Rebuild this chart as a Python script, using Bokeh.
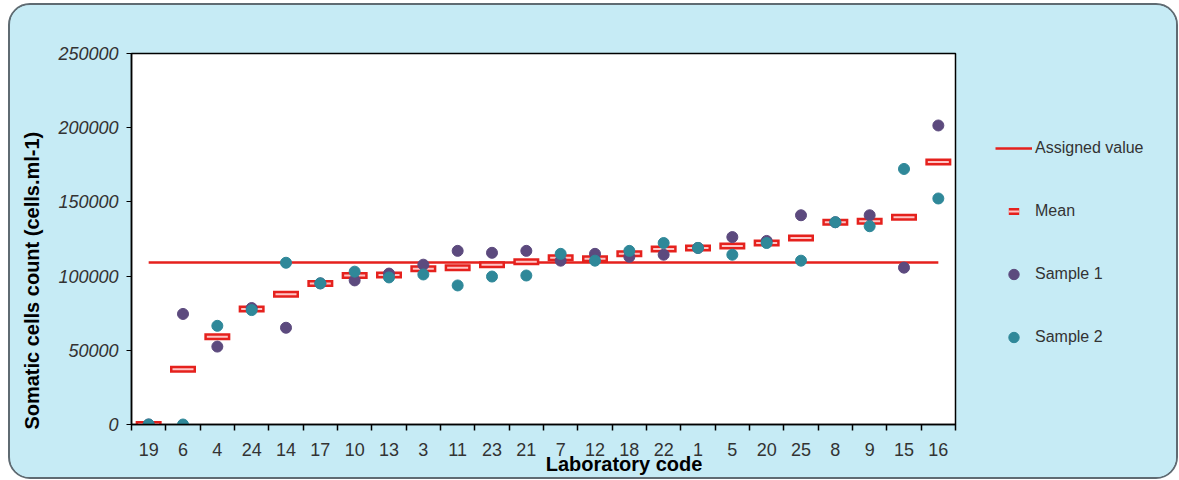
from bokeh.plotting import figure
from bokeh.layouts import row
from bokeh.models import (ColumnDataSource, FixedTicker, Legend, LegendItem,
                          BasicTickFormatter, Range1d)
from bokeh.embed import file_html
from bokeh.resources import INLINE

# ---- data ----
lab_codes = ["19", "6", "4", "24", "14", "17", "10", "13", "3", "11", "23", "21",
             "7", "12", "18", "22", "1", "5", "20", "25", "8", "9", "15", "16"]
sample1 = [0, 74500, 52500, 78500, 65200, 95100, 97100, 101700, 107700, 117000, 115700, 117000,
           110400, 115000, 113000, 114400, 119000, 126300, 123700, 141000, 136300, 141000, 105700, 201500]
sample2 = [0, 0, 66500, 77100, 109000, 95100, 103000, 99100, 101100, 93700, 99700, 100400,
           115000, 110400, 117000, 122300, 119000, 114400, 122300, 110400, 136300, 133600, 172200, 152300]
mean_vals = [0, 37200, 59200, 77800, 87800, 95000, 100400, 100800, 105000, 105700, 107700, 109700,
             112400, 111700, 115000, 118300, 119000, 120300, 122300, 125700, 136300, 137000, 139600, 176900]
assigned_value = 109200
y_ticks = [0, 50000, 100000, 150000, 200000, 250000]

BG = "#c6ebf5"
RED = "#e5211d"
PINK = "#ffc4c4"
PURPLE = "#5c4a7e"
TEAL = "#2f8899"
FONT = "Liberation Sans"

pos = list(range(len(lab_codes)))
src = ColumnDataSource(dict(x=pos, s1=sample1, s2=sample2, m=mean_vals,
                            a=[assigned_value] * len(lab_codes)))


def draw_series(fig):
    r_line = fig.line("x", "a", source=src, line_color=RED, line_width=2.5)
    r_m1 = fig.scatter("x", "m", source=src, marker="dash", size=26, line_color=RED, line_width=7)
    r_m2 = fig.scatter("x", "m", source=src, marker="dash", size=21, line_color=PINK, line_width=2)
    r_s1 = fig.scatter("x", "s1", source=src, size=11, fill_color=PURPLE, line_color=PURPLE)
    r_s2 = fig.scatter("x", "s2", source=src, size=11, fill_color=TEAL, line_color=TEAL)
    return r_line, r_m1, r_m2, r_s1, r_s2


# ---- main chart ----
p = figure(width=947, height=472, output_backend="svg", toolbar_location=None,
           x_range=Range1d(-0.5, len(lab_codes) - 0.5), y_range=Range1d(0, 250000),
           min_border_left=121, min_border_right=2, min_border_top=48, min_border_bottom=48)
p.border_fill_color = BG
p.background_fill_color = "white"
p.outline_line_color = "black"
p.outline_line_width = 1.5
p.xgrid.visible = False
p.ygrid.visible = False
draw_series(p)

# y axis
p.yaxis.ticker = FixedTicker(ticks=y_ticks)
p.yaxis.formatter = BasicTickFormatter(use_scientific=False)
p.yaxis.major_label_text_font = FONT
p.yaxis.major_label_text_font_style = "italic"
p.yaxis.major_label_text_font_size = "18px"
p.yaxis.major_label_text_color = "#333333"
p.yaxis.major_tick_out = 5
p.yaxis.major_tick_in = 0
p.yaxis.minor_tick_line_color = None
p.yaxis.axis_line_color = "black"
p.yaxis.axis_line_width = 1.5
p.yaxis.major_label_standoff = 8
p.yaxis.axis_label = "Somatic cells count (cells.ml-1)" + "\u00a0" * 15
p.yaxis.axis_label_text_font = FONT
p.yaxis.axis_label_text_font_style = "bold"
p.yaxis.axis_label_text_font_size = "20px"
p.yaxis.axis_label_text_color = "black"
p.yaxis.axis_label_standoff = 12

# x axis
p.xaxis.ticker = FixedTicker(ticks=pos, minor_ticks=[i - 0.5 for i in range(len(lab_codes) + 1)])
p.xaxis.major_label_overrides = {i: c for i, c in enumerate(lab_codes)}
p.xaxis.major_tick_line_color = None
p.xaxis.major_tick_out = 0
p.xaxis.major_tick_in = 0
p.xaxis.minor_tick_out = 6
p.xaxis.minor_tick_in = 0
p.xaxis.minor_tick_line_color = "black"
p.xaxis.minor_tick_line_width = 1.5
p.xaxis.axis_line_color = "black"
p.xaxis.axis_line_width = 1.5
p.xaxis.major_label_text_font = FONT
p.xaxis.major_label_text_font_size = "18px"
p.xaxis.major_label_text_color = "#333333"
p.xaxis.major_label_standoff = 12
p.xaxis.axis_label = "\u00a0" * 29 + "Laboratory code"
p.xaxis.axis_label_text_font = FONT
p.xaxis.axis_label_text_font_style = "bold"
p.xaxis.axis_label_text_font_size = "20px"
p.xaxis.axis_label_text_color = "black"
p.xaxis.axis_label_standoff = -6

# ---- legend panel (same series, drawn outside its visible range; only the legend shows) ----
lp = figure(width=219, height=472, output_backend="svg", toolbar_location=None,
            x_axis_location=None, y_axis_location=None,
            x_range=Range1d(-0.5, len(lab_codes) - 0.5), y_range=Range1d(-2, -1),
            min_border_left=0, min_border_right=0, min_border_top=0, min_border_bottom=0)
lp.border_fill_color = BG
lp.background_fill_color = BG
lp.outline_line_color = None
lp.grid.visible = False
l_line, l_m1, l_m2, l_s1, l_s2 = draw_series(lp)

legend = Legend(items=[LegendItem(label="Assigned value", renderers=[l_line]),
                       LegendItem(label="Mean", renderers=[l_m1, l_m2]),
                       LegendItem(label="Sample 1", renderers=[l_s1]),
                       LegendItem(label="Sample 2", renderers=[l_s2])],
                location=(38, 74), padding=0, margin=0, spacing=37,
                glyph_width=37, glyph_height=26, label_standoff=3,
                background_fill_alpha=0, border_line_color=None,
                label_text_font=FONT, label_text_font_size="16px", label_text_color="#333333")
lp.add_layout(legend, "center")

layout = row(p, lp, spacing=0,
             styles={"margin-left": "8px", "margin-top": "3px", "border": "2px solid #5f6b72",
                     "border-radius": "22px", "overflow": "hidden", "background-color": BG})

open("out.html", "w").write(file_html(layout, INLINE))
